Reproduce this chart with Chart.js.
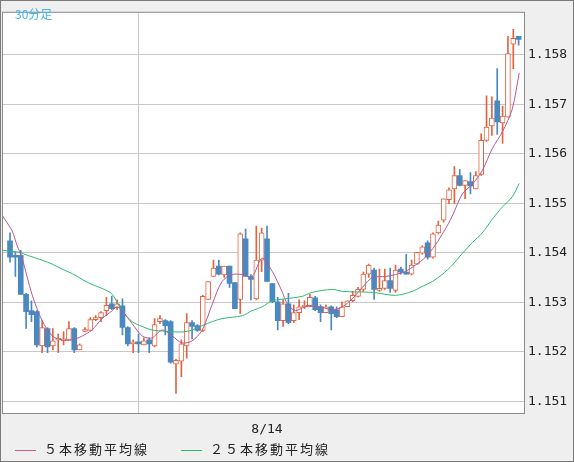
<!DOCTYPE html>
<html><head><meta charset="utf-8">
<script src="https://cdn.jsdelivr.net/npm/chart.js@4.4.0/dist/chart.umd.min.js"></script>
<style>
html,body{margin:0;padding:0;}
#wrap{position:relative;width:572px;height:460px;background:#efefef;border:1px solid #7a7a7a;}
canvas{position:absolute;left:0;top:0;}
#title{position:absolute;left:14px;top:4px;font:12px "Noto Sans CJK JP",sans-serif;color:#3cb4ea;}
#legend{position:absolute;left:14px;top:438px;font:13px "Noto Sans CJK JP",sans-serif;color:#222;letter-spacing:2px;}
#legend span.l{display:inline-block;width:21px;height:0;border-top:1px solid;vertical-align:middle;margin-right:8px;}
</style></head><body>
<div id="wrap"><canvas id="c" width="572" height="460"></canvas>
<div id="title">30分足</div>
<div id="legend"><span class="l" style="border-color:#c0608c"></span>５本移動平均線<span style="display:inline-block;width:32px"></span><span class="l" style="border-color:#2dbb72"></span>２５本移動平均線</div>
</div>
<script>
const opens=[1.15424,1.15395,1.15395,1.15316,1.15283,1.15281,1.15212,1.15247,1.15212,1.15224,1.15222,1.15224,1.15247,1.15204,1.15241,1.15243,1.15265,1.15269,1.15283,1.15297,1.15289,1.15293,1.15249,1.15216,1.15220,1.15214,1.15224,1.15212,1.15261,1.15263,1.15261,1.15175,1.15181,1.15212,1.15259,1.15253,1.15243,1.15306,1.15352,1.15373,1.15355,1.15373,1.15340,1.15306,1.15428,1.15352,1.15307,1.15385,1.15428,1.15338,1.15301,1.15263,1.15297,1.15263,1.15279,1.15291,1.15293,1.15309,1.15291,1.15279,1.15291,1.15285,1.15271,1.15291,1.15303,1.15312,1.15326,1.15357,1.15365,1.15324,1.15328,1.15344,1.15324,1.15367,1.15361,1.15357,1.15377,1.15399,1.15420,1.15391,1.15440,1.15466,1.15507,1.15529,1.15556,1.15536,1.15544,1.15529,1.15558,1.15627,1.15656,1.15707,1.15662,1.15674,1.15821,1.15837];
const closes=[1.15391,1.15391,1.15316,1.15281,1.15275,1.15214,1.15249,1.15210,1.15222,1.15226,1.15226,1.15247,1.15204,1.15214,1.15245,1.15265,1.15269,1.15279,1.15294,1.15287,1.15297,1.15249,1.15216,1.15220,1.15216,1.15222,1.15216,1.15255,1.15267,1.15253,1.15179,1.15183,1.15216,1.15259,1.15251,1.15243,1.15312,1.15342,1.15369,1.15357,1.15373,1.15338,1.15287,1.15438,1.15352,1.15346,1.15385,1.15440,1.15342,1.15301,1.15263,1.15297,1.15259,1.15279,1.15291,1.15293,1.15310,1.15285,1.15279,1.15291,1.15277,1.15271,1.15291,1.15303,1.15314,1.15326,1.15357,1.15375,1.15326,1.15328,1.15344,1.15328,1.15365,1.15361,1.15357,1.15375,1.15401,1.15412,1.15391,1.15438,1.15456,1.15509,1.15527,1.15556,1.15536,1.15546,1.15535,1.15556,1.15627,1.15654,1.15672,1.15664,1.15676,1.15802,1.15833,1.15831];
const highs=[1.15440,1.15401,1.15405,1.15318,1.15303,1.15283,1.15263,1.15249,1.15247,1.15236,1.15241,1.15261,1.15249,1.15216,1.15249,1.15269,1.15273,1.15281,1.15310,1.15312,1.15305,1.15307,1.15251,1.15224,1.15236,1.15228,1.15228,1.15267,1.15273,1.15265,1.15263,1.15185,1.15224,1.15277,1.15263,1.15255,1.15314,1.15342,1.15385,1.15385,1.15373,1.15373,1.15340,1.15440,1.15448,1.15356,1.15454,1.15450,1.15454,1.15338,1.15310,1.15305,1.15318,1.15295,1.15305,1.15303,1.15316,1.15312,1.15295,1.15295,1.15293,1.15291,1.15301,1.15303,1.15322,1.15330,1.15361,1.15377,1.15369,1.15367,1.15367,1.15369,1.15375,1.15371,1.15397,1.15385,1.15401,1.15414,1.15424,1.15440,1.15464,1.15509,1.15531,1.15574,1.15568,1.15546,1.15562,1.15564,1.15640,1.15717,1.15715,1.15772,1.15696,1.15837,1.15851,1.15837];
const lows=[1.15381,1.15352,1.15316,1.15247,1.15261,1.15210,1.15198,1.15198,1.15204,1.15198,1.15214,1.15224,1.15198,1.15204,1.15241,1.15243,1.15263,1.15261,1.15273,1.15285,1.15285,1.15234,1.15212,1.15198,1.15198,1.15214,1.15198,1.15210,1.15257,1.15234,1.15177,1.15116,1.15150,1.15187,1.15226,1.15241,1.15241,1.15306,1.15352,1.15355,1.15350,1.15330,1.15287,1.15277,1.15352,1.15305,1.15305,1.15362,1.15342,1.15299,1.15244,1.15251,1.15257,1.15259,1.15265,1.15287,1.15291,1.15283,1.15261,1.15279,1.15244,1.15269,1.15271,1.15291,1.15301,1.15311,1.15322,1.15350,1.15306,1.15322,1.15326,1.15320,1.15320,1.15357,1.15357,1.15355,1.15377,1.15397,1.15387,1.15389,1.15438,1.15462,1.15499,1.15499,1.15535,1.15509,1.15519,1.15529,1.15556,1.15625,1.15637,1.15639,1.15621,1.15674,1.15772,1.15819];
const ma5Idx=[-1.5,0.4,1.3,2.2,4.1,6,7.9,9.7,11.6,13.5,15.3,17.2,19.1,20,20.9,22.8,24.7,26.5,28.4,30.3,32.1,34,35.9,37.8,39.6,41.5,43.4,45.2,47.1,49,50.8,51.8,53.3,55.1,57.8,60.2,62.1,63.9,65.8,67.7,70.1,72,73.8,75.7,77.6,79.4,81.3,82.6,84.5,86.4,88.2,90.1,92,93.8,95.1];
const ma5Val=[1.15476,1.15444,1.15415,1.15391,1.15316,1.15263,1.15232,1.15224,1.15224,1.15232,1.15244,1.15267,1.15283,1.15291,1.15283,1.15257,1.15232,1.15228,1.15244,1.15232,1.15218,1.15222,1.15244,1.15297,1.15342,1.15356,1.15356,1.15352,1.15389,1.15362,1.15322,1.15297,1.15283,1.15291,1.15291,1.15285,1.15291,1.15307,1.15330,1.15350,1.15352,1.15356,1.15362,1.15375,1.15391,1.15415,1.15448,1.15474,1.15519,1.15539,1.15566,1.15611,1.15645,1.15690,1.15763];
const ma25Idx=[-1.5,1.7,3.2,6,7.9,9.7,11.6,13.5,15.3,17.2,19.1,20.9,22.8,24.7,26.5,28.4,32.1,34,35.9,37.8,39.6,43.4,45.2,47.1,49,51.4,54.6,56.4,60.2,62.1,67.7,72,75.1,77,78.9,80.7,82.6,84.5,86.4,88.2,90.1,92,93.8,95.1];
const ma25Val=[1.15405,1.15401,1.15395,1.15385,1.15377,1.15367,1.15358,1.15346,1.15336,1.15328,1.15316,1.15283,1.15261,1.15251,1.15244,1.15242,1.15240,1.15244,1.15253,1.15261,1.15267,1.15273,1.15283,1.15291,1.15303,1.15307,1.15312,1.15320,1.15326,1.15322,1.15320,1.15314,1.15322,1.15332,1.15342,1.15356,1.15375,1.15399,1.15421,1.15440,1.15468,1.15493,1.15513,1.15540];
const xTickIdx=[0,48];
const xTickLabels=['','8/14'];
const yTicks=[1.151,1.152,1.153,1.154,1.155,1.156,1.157,1.158];

const UP='#e2643f', DOWN='#4a88c2';
const isUp=opens.map((o,i)=>closes[i]>=o);
const bodies=opens.map((o,i)=>({x:i,y:[o,Math.abs(closes[i]-o)<0.00003?o+(isUp[i]?0.00003:-0.00003):closes[i]]}));
const wicks=opens.map((o,i)=>({x:i,y:[lows[i],highs[i]]}));
const frame={id:'frame',beforeDraw(c){const a=c.chartArea,x=c.ctx;x.save();x.fillStyle='#fff';x.fillRect(a.left,a.top,a.right-a.left,a.bottom-a.top);x.restore();},
 afterDraw(c){const a=c.chartArea,x=c.ctx;x.save();x.strokeStyle='#8a8a8a';x.lineWidth=1;x.strokeRect(a.left+0.5,a.top-0.5,a.right-a.left,a.bottom-a.top+1);x.restore();}};
new Chart(document.getElementById('c'),{
 data:{datasets:[
  {type:'line',data:ma25Idx.map((x,i)=>({x,y:ma25Val[i]})),borderColor:'#2dbb72',borderWidth:1,pointRadius:0,tension:0.3,order:1},
  {type:'line',data:ma5Idx.map((x,i)=>({x,y:ma5Val[i]})),borderColor:'#b85890',borderWidth:1,pointRadius:0,tension:0.3,order:0},
  {type:'bar',data:wicks,backgroundColor:isUp.map(u=>u?UP:DOWN),barThickness:1,grouped:false,order:3},
  {type:'bar',data:bodies,backgroundColor:isUp.map(u=>u?'#ffffff':DOWN),borderColor:isUp.map(u=>u?UP:DOWN),borderWidth:isUp.map(u=>u?1:0),borderSkipped:false,barThickness:5,grouped:false,order:2}
 ]},
 options:{responsive:false,animation:false,events:[],
  layout:{padding:{left:1,top:1,right:0,bottom:0}},
  plugins:{legend:{display:false},tooltip:{enabled:false}},
  scales:{
   x:{type:'linear',min:-1.5,max:96,offset:false,
    afterBuildTicks(s){s.ticks=xTickIdx.map(v=>({value:v}));},
    afterFit(s){s.height=48;},
    grid:{color:(ctx)=>(ctx.tick&&xTickIdx.includes(ctx.tick.value))?'#c8c8c8':'rgba(0,0,0,0)',drawTicks:false},border:{display:false},
    ticks:{padding:9,color:'#222',font:{family:'DejaVu Sans Mono',size:13},maxRotation:0,autoSkip:false,stepSize:24,callback:(v)=>{const k=xTickIdx.indexOf(v);return k<0?'':xTickLabels[k];}}},
   y:{position:'right',min:1.150764,max:1.158846,
    afterBuildTicks(s){s.ticks=yTicks.map(v=>({value:v}));},
    afterFit(s){s.width=49;},
    grid:{color:'#c8c8c8',drawTicks:false},border:{display:false},
    ticks:{padding:4,color:'#222',font:{family:'DejaVu Sans Mono',size:13},callback:v=>v.toFixed(3)}}
  }},
 plugins:[frame]
});
</script></body></html>
